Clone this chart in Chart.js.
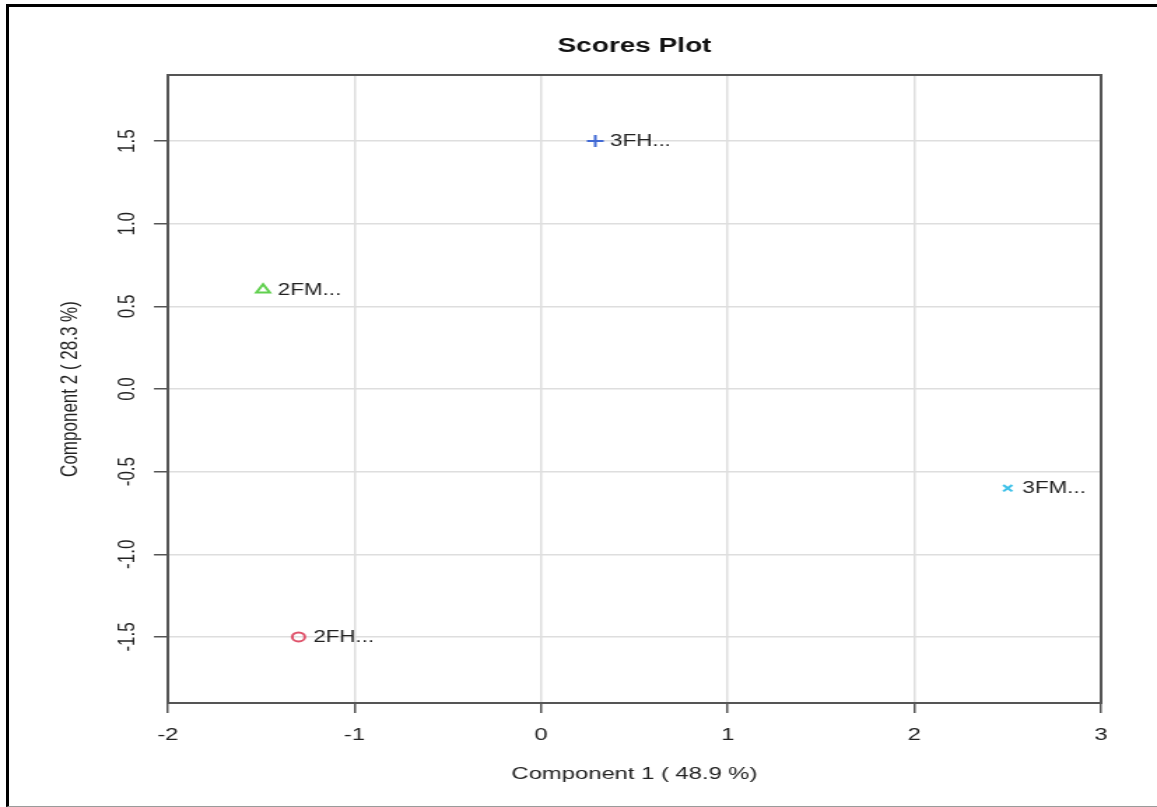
<!DOCTYPE html>
<html>
<head>
<meta charset="utf-8">
<script src="https://cdn.jsdelivr.net/npm/chart.js@4/dist/chart.umd.min.js"></script>
<style>
  html, body { margin: 0; padding: 0; background: #fff; overflow: hidden; width: 1157px; height: 807px; }
  #wrap { position: absolute; left: 0; top: 0; width: 827px; height: 807px; transform: scaleX(1.39903); transform-origin: 0 0; }
  #frame { position: absolute; left: 6px; top: 4px; width: 1151px; height: 803px; box-sizing: border-box;
           border-left: 3px solid #000; border-top: 3px solid #000; border-bottom: 1px solid #9a9a9a; pointer-events: none; }
</style>
</head>
<body>
<div id="wrap"><canvas id="c" width="827" height="807"></canvas></div>
<div id="frame"></div>
<script>
// Sample groups and their PCA scores
const groups = ['2FH...', '2FM...', '3FH...', '3FM...'];
const comp1 = [-1.3, -1.49, 0.29, 2.5];
const comp2 = [-1.5, 0.6, 1.5, -0.6];

// Axis ticks
const xTicks = [-2, -1, 0, 1, 2, 3];
const xTickLabels = ['-2', '-1', '0', '1', '2', '3'];
const yTicks = [-1.5, -1.0, -0.5, 0.0, 0.5, 1.0, 1.5];
const yTickLabels = ['-1.5', '-1.0', '-0.5', '0.0', '0.5', '1.0', '1.5'];

const FONT = "'Liberation Sans', Arial, Helvetica, sans-serif";
const markerStyles = ['circle', 'triangle', 'cross', 'crossRot'];
const markerColors = ['#DF536B', '#61D04F', '#4169D4', '#3CC0E8'];
const markerRadius = [4.5, 5.5, 6, 4.5];

const datasets = groups.map((g, i) => ({
  label: g,
  data: [{ x: comp1[i], y: comp2[i] }],
  pointStyle: markerStyles[i],
  pointRadius: markerRadius[i],
  pointHoverRadius: markerRadius[i],
  pointBorderWidth: 2,
  borderColor: markerColors[i],
  backgroundColor: 'rgba(0,0,0,0)',
  showLine: false
}));

// Box around the plot region, rotated y tick labels and point labels
const decorations = {
  id: 'decorations',
  afterDraw(chart) {
    const ctx = chart.ctx;
    const a = chart.chartArea;
    const ys = chart.scales.y;
    ctx.save();
    ctx.strokeStyle = '#555';
    ctx.lineWidth = 2;
    ctx.strokeRect(a.left, a.top, a.right - a.left, a.bottom - a.top);

    ctx.fillStyle = '#222';
    ctx.font = '17px ' + FONT;
    ctx.textAlign = 'center';
    ctx.textBaseline = 'middle';
    yTicks.forEach((v, i) => {
      const py = ys.getPixelForValue(v);
      ctx.save();
      ctx.translate(91.5, py);
      ctx.rotate(-Math.PI / 2);
      ctx.fillText(yTickLabels[i], 0, 0);
      ctx.restore();
    });

    ctx.font = '16px ' + FONT;
    ctx.textAlign = 'left';
    ctx.fillStyle = '#222';
    chart.data.datasets.forEach((ds, i) => {
      const el = chart.getDatasetMeta(i).data[0];
      ctx.fillText(ds.label, el.x + 10.5, el.y + 0.5);
    });
    ctx.restore();
  }
};

new Chart(document.getElementById('c'), {
  type: 'scatter',
  data: { datasets },
  options: {
    responsive: false,
    animation: false,
    devicePixelRatio: 1,
    layout: { padding: { left: 0, right: 40, top: 0, bottom: 0 } },
    plugins: {
      legend: { display: false },
      tooltip: { enabled: false },
      title: {
        display: true,
        text: 'Scores Plot',
        fullSize: false,
        color: '#111',
        font: { family: FONT, size: 20, weight: 'bold', lineHeight: 1.2 },
        padding: { top: 34, bottom: 17 }
      }
    },
    scales: {
      x: {
        type: 'linear',
        min: -2, max: 3,
        afterBuildTicks: s => { s.ticks = xTicks.map(v => ({ value: v })); },
        afterFit: s => { s.height = 104; },
        ticks: {
          color: '#222',
          font: { family: FONT, size: 17 },
          padding: 12,
          maxRotation: 0,
          callback: (v) => xTickLabels[xTicks.indexOf(v)]
        },
        grid: { color: '#dedede', lineWidth: 1.5, tickColor: '#555', tickWidth: 1.5, tickLength: 10, drawTicks: true },
        border: { display: false },
        title: {
          display: true,
          text: 'Component 1 ( 48.9 %)',
          color: '#222',
          font: { family: FONT, size: 17, lineHeight: 1.2 },
          padding: { top: 0, bottom: 22 }
        }
      },
      y: {
        type: 'linear',
        min: -1.9, max: 1.9,
        afterBuildTicks: s => { s.ticks = yTicks.map(v => ({ value: v })); },
        afterFit: s => { s.width = 120; },
        ticks: { display: false },
        grid: { color: '#dedede', lineWidth: 1.5, tickColor: '#555', tickWidth: 1.5, tickLength: 10, drawTicks: true },
        border: { display: false },
        title: {
          display: true,
          text: 'Component 2 ( 28.3 %)',
          color: '#222',
          font: { family: FONT, size: 17, lineHeight: 1.2 },
          padding: { top: 40, bottom: 0 }
        }
      }
    }
  },
  plugins: [decorations]
});
</script>
</body>
</html>
